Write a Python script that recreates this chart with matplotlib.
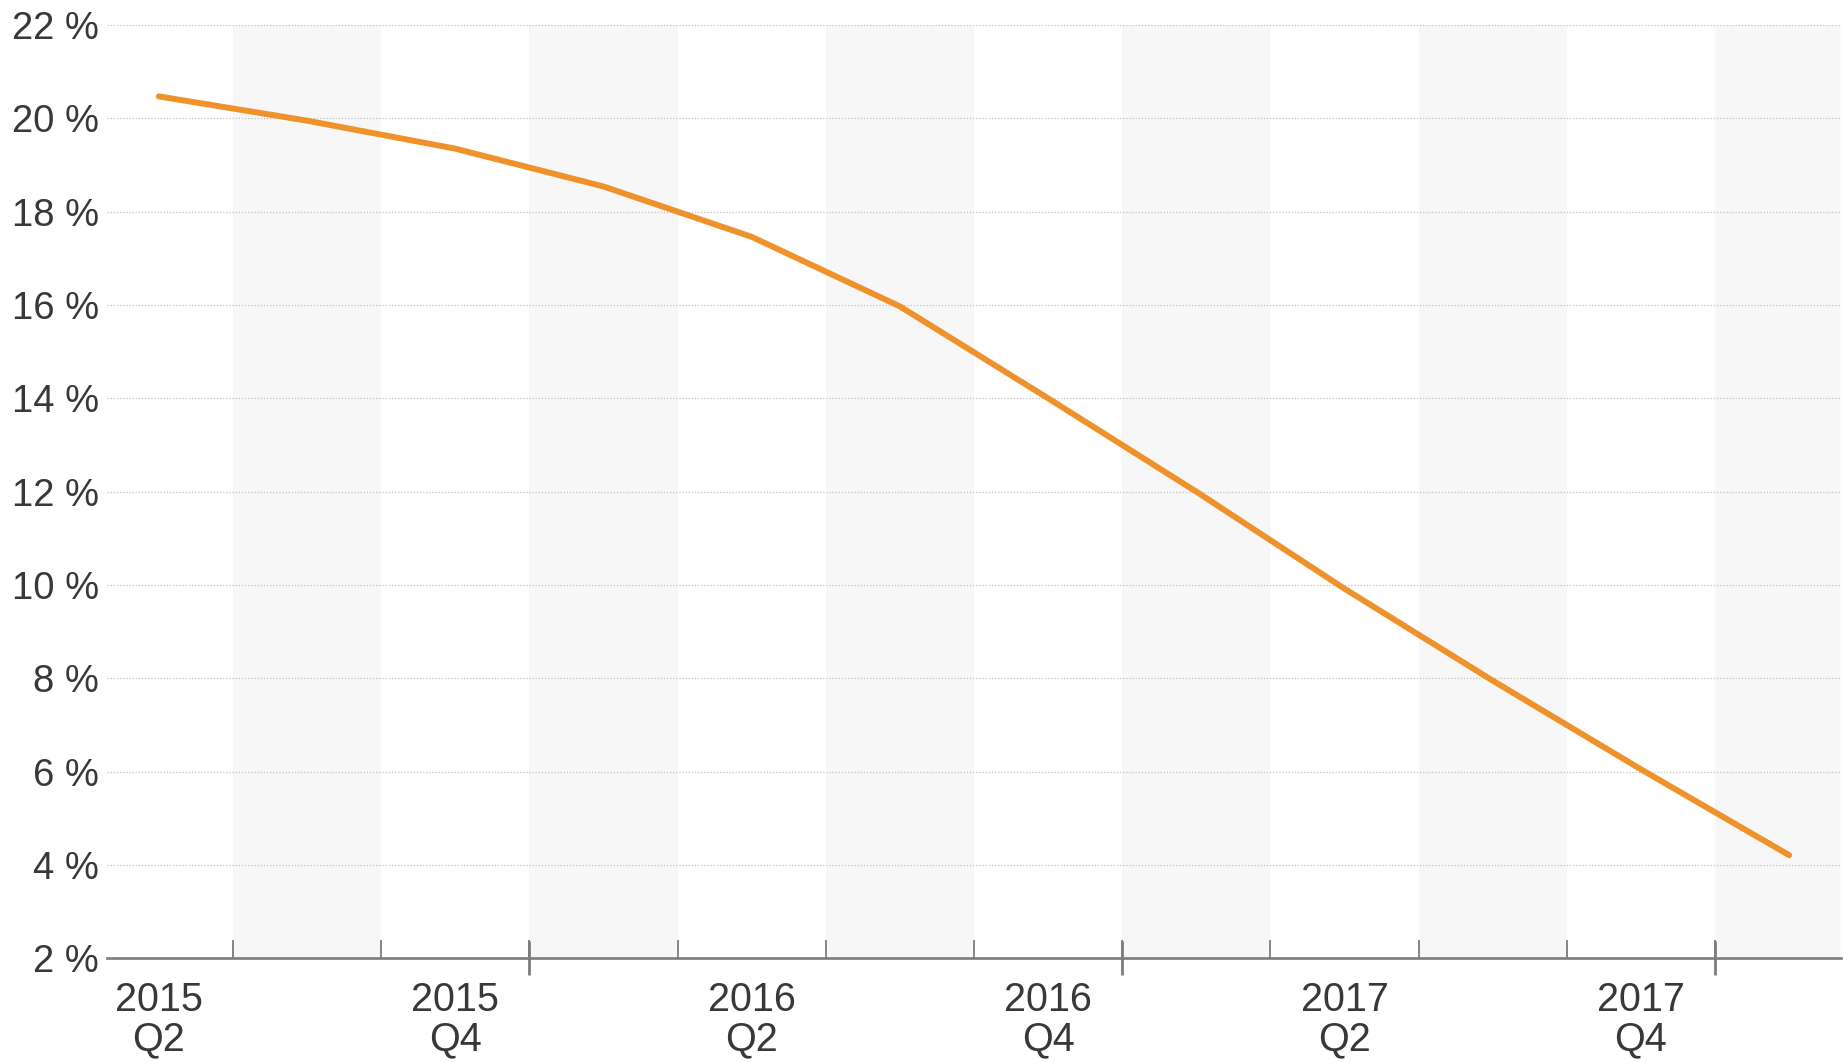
import matplotlib.pyplot as plt
import numpy as np

plt.rcParams['font.family'] = ['Liberation Sans', 'DejaVu Sans']

# quarterly values
quarters = ["2015 Q2", "2015 Q3", "2015 Q4", "2016 Q1", "2016 Q2", "2016 Q3",
            "2016 Q4", "2017 Q1", "2017 Q2", "2017 Q3", "2017 Q4", "2018 Q1"]
share = [20.47, 19.95, 19.35, 18.54, 17.46, 15.97, 14.0, 12.0, 9.92, 7.95, 6.05, 4.21]
tick_labels = ["2015\nQ2", "2015\nQ4", "2016\nQ2", "2016\nQ4", "2017\nQ2", "2017\nQ4"]
y_ticks = [2, 4, 6, 8, 10, 12, 14, 16, 18, 20, 22]

W, H = 1843, 1062
x = np.arange(len(quarters))
text_col = '#383838'
axis_col = '#7c7c7c'

fig = plt.figure(figsize=(W / 100, H / 100), dpi=100)
ax = fig.add_axes([107 / W, 1 - 958.3 / H, 1734 / W, (958.3 - 25) / H])
ax.set_xlim(-0.35, 11.35)
ax.set_ylim(2, 22)

# shaded bands for Q1 / Q3
for i in x[1::2]:
    ax.axvspan(i - 0.5, i + 0.5, color='#f7f7f7', lw=0, zorder=0)

ax.plot(x, share, color='#f0922b', lw=4.3, solid_capstyle='round', zorder=3)

ax.set_axisbelow(True)
ax.set_yticks(y_ticks, [f"{v} %" for v in y_ticks])
ax.yaxis.grid(True, linestyle=(0, (1, 1.5)), color='#c2c2c2', lw=0.9)
ax.tick_params(axis='y', length=0, pad=6, labelsize=27.5, labelcolor=text_col)

for s in ['left', 'top', 'right']:
    ax.spines[s].set_visible(False)
ax.spines['bottom'].set_color(axis_col)
ax.spines['bottom'].set_linewidth(1.9)

ax.set_xticks(x[::2], tick_labels)
ax.tick_params(axis='x', which='major', length=0, pad=16, labelsize=28.5,
               labelcolor=text_col)
for lbl in ax.get_xticklabels():
    lbl.set_linespacing(1.05)

# quarter boundaries
ax.set_xticks(x[:-1] + 0.5, minor=True)
ax.tick_params(axis='x', which='minor', direction='in', length=13, width=1.3,
               color=axis_col)

# year boundaries stick out below the axis
year_bounds = [i + 0.5 for i in x[:-1] if quarters[i + 1].endswith("Q1")]
sec = ax.secondary_xaxis('bottom')
sec.set_xticks(year_bounds, labels=[])
sec.tick_params(direction='inout', length=25, width=2, color=axis_col)
sec.spines['bottom'].set_visible(False)

fig.savefig('out.png', dpi=100)
